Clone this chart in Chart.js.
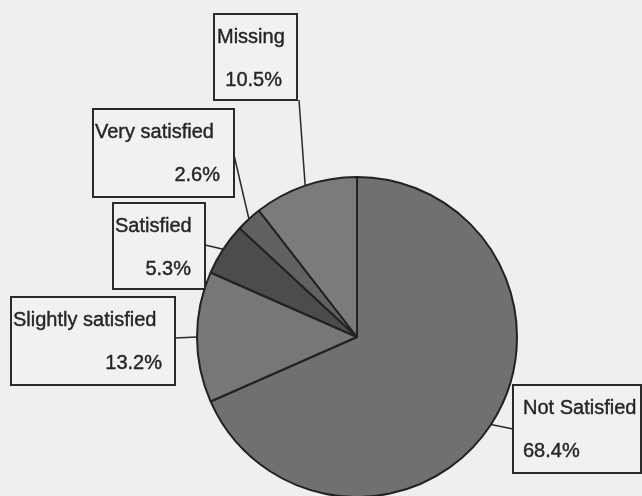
<!DOCTYPE html>
<html>
<head>
<meta charset="utf-8">
<script src="https://cdn.jsdelivr.net/npm/chart.js@4/dist/chart.umd.min.js"></script>
<style>
  html, body { margin: 0; padding: 0; background: #efefef; }
  #wrap { width: 642px; height: 496px; }
</style>
</head>
<body>
<div id="wrap"><canvas id="c" width="642" height="496"></canvas></div>
<script>
// Satisfaction categories and their share of responses (%)
const categories = ['Not Satisfied', 'Slightly satisfied', 'Satisfied', 'Very satisfied', 'Missing'];
const percentages = [68.4, 13.2, 5.3, 2.6, 10.5];
const sliceColors = ['#707070', '#777777', '#4c4c4c', '#616161', '#7b7b7b'];

// Callout boxes, one per category: [left, top, right, bottom], leader start, text x + alignment
const callouts = [
  { box: [513, 385, 641, 473], from: [513, 429], title: [523, 'left'], value: [523, 'left'] },
  { box: [11, 297, 175, 385],  from: [175, 338], title: [13, 'left'],  value: [162, 'right'] },
  { box: [113, 203, 205, 289], from: [205, 245], title: [115, 'left'], value: [191, 'right'] },
  { box: [93, 109, 234, 197],  from: [234, 155], title: [95, 'left'],  value: [220, 'right'] },
  { box: [214, 14, 297, 100],  from: [299, 100], title: [217, 'left'], value: [282, 'right'] }
];

const background = {
  id: 'background',
  beforeDraw(chart) {
    const { ctx, width, height } = chart;
    ctx.save();
    ctx.fillStyle = '#efefef';
    ctx.fillRect(0, 0, width, height);
    ctx.restore();
  }
};

// Boxed labels joined to the rim of each slice by a leader line
const calloutLabels = {
  id: 'calloutLabels',
  afterDatasetsDraw(chart) {
    const { ctx } = chart;
    const arcs = chart.getDatasetMeta(0).data;
    ctx.save();
    arcs.forEach((arc, i) => {
      const c = callouts[i];
      const p = arc.getProps(['x', 'y', 'startAngle', 'endAngle', 'outerRadius'], true);
      const mid = (p.startAngle + p.endAngle) / 2;
      const rx = p.x + Math.cos(mid) * p.outerRadius;
      const ry = p.y + Math.sin(mid) * p.outerRadius;

      ctx.strokeStyle = '#2a2a2a';
      ctx.lineWidth = 1.5;
      ctx.beginPath();
      ctx.moveTo(c.from[0], c.from[1]);
      ctx.lineTo(rx, ry);
      ctx.stroke();

      const [l, t, r, b] = c.box;
      ctx.fillStyle = '#f1f1f1';
      ctx.fillRect(l, t, r - l, b - t);
      ctx.lineWidth = 2;
      ctx.strokeStyle = '#2a2a2a';
      ctx.strokeRect(l, t, r - l, b - t);

      ctx.fillStyle = '#262626';
      ctx.strokeStyle = '#262626';
      ctx.lineWidth = 0.4;
      ctx.font = '20px "Liberation Sans", Arial, sans-serif';
      ctx.textBaseline = 'middle';
      ctx.textAlign = c.title[1];
      ctx.fillText(categories[i], c.title[0], t + 23);
      ctx.strokeText(categories[i], c.title[0], t + 23);
      const v = percentages[i].toFixed(1) + '%';
      ctx.textAlign = c.value[1];
      ctx.fillText(v, c.value[0], t + 66);
      ctx.strokeText(v, c.value[0], t + 66);
    });
    ctx.restore();
  }
};

new Chart(document.getElementById('c'), {
  type: 'pie',
  data: {
    labels: categories,
    datasets: [{
      data: percentages,
      backgroundColor: sliceColors,
      borderColor: '#222222',
      borderWidth: 2,
      radius: 160
    }]
  },
  options: {
    responsive: false,
    devicePixelRatio: 1,
    animation: false,
    layout: { padding: { left: 197, right: 125, top: 178, bottom: 0 } },
    plugins: {
      legend: { display: false },
      tooltip: { enabled: false }
    }
  },
  plugins: [background, calloutLabels]
});
</script>
</body>
</html>
